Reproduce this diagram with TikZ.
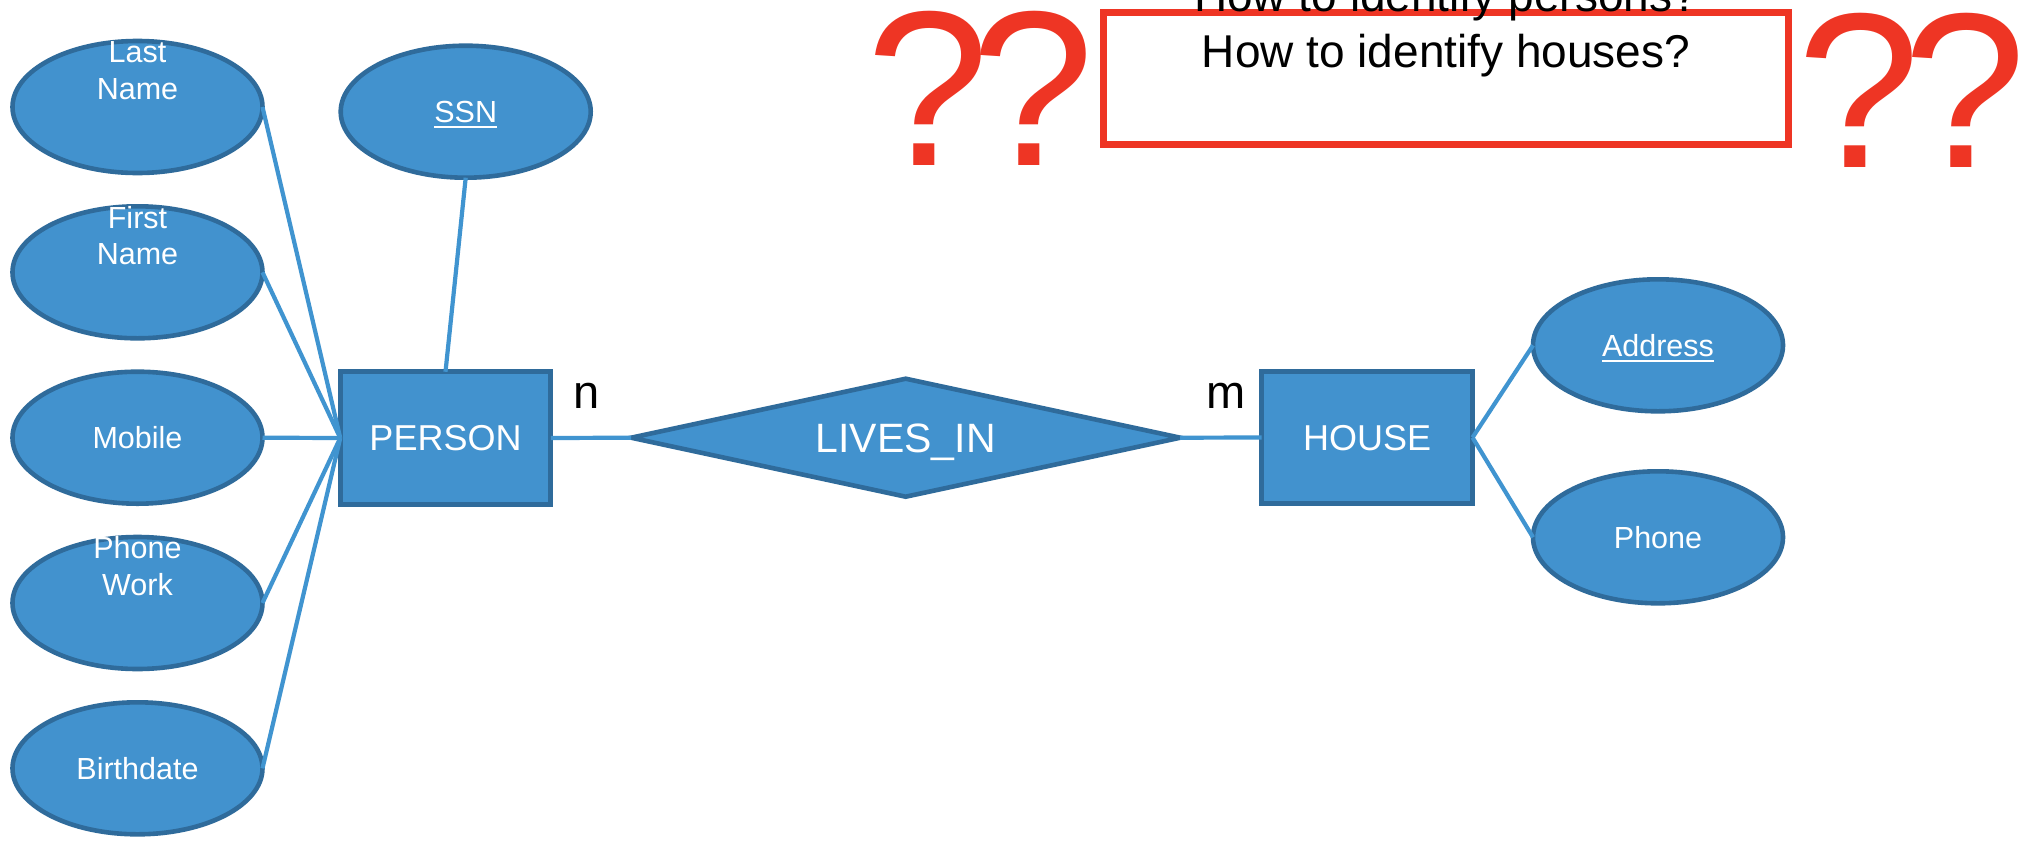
\documentclass[tikz,border=0pt]{standalone}
\usepackage{fontspec}
\setmainfont{Liberation Sans}
\usetikzlibrary{shapes.geometric}
\definecolor{erfill}{RGB}{66,146,206}
\definecolor{erborder}{RGB}{47,107,155}
\definecolor{erline}{RGB}{64,148,208}
\definecolor{erred}{RGB}{238,53,36}
\newcommand{\keyul}[1]{\setbox0=\hbox{#1}\rlap{\rule[-5.5pt]{\wd0}{2pt}}\box0 }
\tikzset{
  attr/.style={ellipse,draw=erborder,fill=erfill,line width=4.6pt,inner sep=0pt,outer sep=0pt,
    minimum width=250pt,minimum height=132pt,text=white,align=center,
    font=\fontsize{30.5}{36.7}\selectfont,text height=21.8pt,text depth=0pt},
  attrtwo/.style={attr,text depth=36.7pt},
  entity/.style={rectangle,draw=erborder,fill=erfill,line width=4.6pt,inner sep=0pt,outer sep=0pt,
    minimum height=132.5pt,text=white,font=\fontsize{36}{40}\selectfont,text height=25.8pt,text depth=0pt},
  rel/.style={diamond,aspect=4.65,draw=erborder,fill=erfill,line width=4.6pt,inner sep=0pt,outer sep=0pt,
    minimum width=549pt,minimum height=118pt,text=white,font=\fontsize{41}{45}\selectfont,text height=29.4pt,text depth=0pt},
  link/.style={draw=erline,line width=4.2pt},
  card/.style={inner sep=0pt,outer sep=0pt,anchor=base,font=\fontsize{47}{50}\selectfont,text=black},
  quest/.style={inner sep=0pt,outer sep=0pt,anchor=base,font=\fontsize{221}{221}\selectfont,text=erred},
  qbox/.style={rectangle,draw=erred,fill=white,line width=7pt,inner sep=0pt,outer sep=0pt,
    minimum width=685pt,minimum height=132pt,align=center,text=black,
    font=\fontsize{46}{56}\selectfont,text height=33pt,text depth=56pt},
}
\begin{document}
\begin{tikzpicture}[x=1pt,y=-1pt]
\path[use as bounding box,fill=white] (0,0) rectangle (2036,846);
% attributes
\node[attrtwo] (last) at (137.5,107) {Last\\Name};
\node[attrtwo] (first) at (137.5,272.3) {First\\Name};
\node[attr] (mobile) at (137.5,437.7) {Mobile};
\node[attrtwo] (work) at (137.5,603) {Phone\\Work};
\node[attr] (birth) at (137.5,768.3) {Birthdate};
\node[attr] (ssn) at (465.7,111.7) {\keyul{SSN}};
\node[attr] (addr) at (1658,345.3) {\keyul{Address}};
\node[attr] (phone) at (1658,537.3) {Phone};
% entities and relationship
\node[entity,minimum width=210.5pt] (person) at (445.5,438) {PERSON};
\node[entity,minimum width=211pt] (house) at (1367,437.5) {HOUSE};
\node[rel] (lives) at (905.7,437.7) {LIVES\_IN};
% connectors
\draw[link] (last.east) -- (person.west);
\draw[link] (first.east) -- (person.west);
\draw[link] (mobile.east) -- (person.west);
\draw[link] (work.east) -- (person.west);
\draw[link] (birth.east) -- (person.west);
\draw[link] (ssn.south) -- (person.north);
\draw[link] (person.east) -- (lives.west);
\draw[link] (lives.east) -- (house.west);
\draw[link] (house.east) -- (addr.west);
\draw[link] (house.east) -- (phone.west);
% cardinalities
\node[card] (n) at (587,408.5) {n};
\node[card] (m) at (1226,408) {m};
% question box and marks
\node[qbox] (box) at (1446,78.5) {How to identify persons?\\How to identify houses?};
\node[quest] (q1) at (928,165) {?};
\node[quest] (q2) at (1033,165) {?};
\node[quest] (q3) at (1859,167) {?};
\node[quest] (q4) at (1965,167) {?};
\end{tikzpicture}
\end{document}
